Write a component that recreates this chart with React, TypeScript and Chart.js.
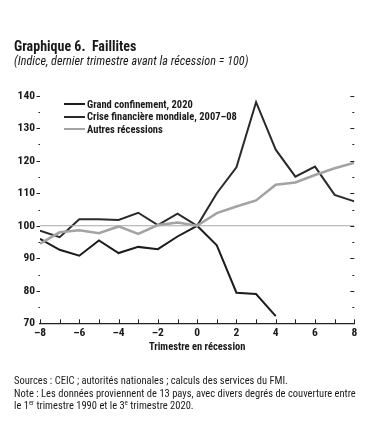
import React, { useEffect, useRef } from "react";
import { Chart, registerables } from "chart.js";

Chart.register(...registerables);

const quarters = [-8, -7, -6, -5, -4, -3, -2, -1, 0, 1, 2, 3, 4, 5, 6, 7, 8];
const grandConfinement = [96, 92.6, 90.8, 95.5, 91.6, 93.5, 92.8, 96.7, 100, 94, 79.4, 79, 72.2];
const criseFinanciere = [98.5, 96.5, 102, 102, 101.8, 104, 100.2, 103.7, 100, 110, 118, 138, 123.4, 115.1, 118.2, 109.5, 107.5];
const autresRecessions = [94.5, 98, 98.6, 97.7, 99.8, 97.5, 100.2, 101, 100, 103.9, 105.9, 107.8, 112.6, 113.3, 115.6, 117.7, 119.4];
const referenceLevel = [100, 100];
const seriesLabels = ["Grand confinement, 2020", "Crise financière mondiale, 2007–08", "Autres récessions"];
const seriesColors = ["#1c1c1c", "#2a2a2a", "#a3a3a3"];
const xTickValues = [-8, -6, -4, -2, 0, 2, 4, 6, 8];
const yTickValues = [70, 80, 90, 100, 110, 120, 130, 140];
const yMinorValues = [75, 85, 95, 105, 115, 125, 135];

const FONT = '"Roboto Condensed", "Liberation Sans", sans-serif';

const toPoints = (vals: number[]) => vals.map((v, i) => ({ x: quarters[i], y: v }));

const tickPlugin = {
  id: "axisTickMarks",
  afterDatasetsDraw(chart: any) {
    const { ctx, chartArea: a, scales } = chart;
    const x = scales.x;
    const y = scales.y;
    ctx.save();
    ctx.strokeStyle = "#222";
    ctx.lineWidth = 1;
    ctx.beginPath();
    for (const q of quarters) {
      const px = Math.round(x.getPixelForValue(q)) + 0.5;
      ctx.moveTo(px, a.bottom);
      ctx.lineTo(px, a.bottom - 4);
    }
    for (const v of yTickValues) {
      if (v === 70) continue;
      const py = Math.round(y.getPixelForValue(v)) + 0.5;
      ctx.moveTo(a.left - 3.5, py);
      ctx.lineTo(a.left, py);
      ctx.moveTo(a.right - 4, py);
      ctx.lineTo(a.right, py);
    }
    for (const v of yMinorValues) {
      const py = Math.round(y.getPixelForValue(v)) + 0.5;
      ctx.moveTo(a.left - 1.5, py);
      ctx.lineTo(a.left, py);
      ctx.moveTo(a.right - 2, py);
      ctx.lineTo(a.right, py);
    }
    ctx.stroke();
    ctx.restore();
  },
};

export default function App() {
  const canvasRef = useRef<HTMLCanvasElement | null>(null);

  useEffect(() => {
    const canvas = canvasRef.current;
    if (!canvas) return;
    const chart = new Chart(canvas, {
      type: "line",
      data: {
        datasets: [
          {
            label: "ref",
            data: [
              { x: quarters[0], y: referenceLevel[0] },
              { x: quarters[quarters.length - 1], y: referenceLevel[1] },
            ],
            borderColor: "#a8a8a8",
            borderWidth: 1.2,
            pointRadius: 0,
          },
          {
            label: seriesLabels[2],
            data: toPoints(autresRecessions),
            borderColor: seriesColors[2],
            borderWidth: 2.6,
            pointRadius: 0,
          },
          {
            label: seriesLabels[1],
            data: toPoints(criseFinanciere),
            borderColor: seriesColors[1],
            borderWidth: 2,
            pointRadius: 0,
          },
          {
            label: seriesLabels[0],
            data: toPoints(grandConfinement),
            borderColor: seriesColors[0],
            borderWidth: 2,
            pointRadius: 0,
          },
        ],
      },
      options: {
        responsive: false,
        animation: false,
        layout: { padding: { top: 95.7, right: 21.7, left: 0, bottom: 80.7 } },
        plugins: { legend: { display: false }, tooltip: { enabled: false } },
        scales: {
          x: {
            type: "linear",
            min: -8,
            max: 8,
            afterBuildTicks: (s: any) => {
              s.ticks = xTickValues.map((v) => ({ value: v }));
            },
            afterFit: (s: any) => {
              s.height = 30;
            },
            grid: { display: false, drawTicks: false, tickLength: 0 },
            border: { display: true, color: "#222", width: 1.2 },
            ticks: {
              padding: 3,
              color: "#1a1a1a",
              font: { family: FONT, size: 11.5, weight: "bold" },
              callback: (v: any) => String(v).replace("-", "–"),
            },
            title: {
              display: true,
              text: "Trimestre en récession",
              color: "#1a1a1a",
              padding: 0,
              font: { family: FONT, size: 10.5, weight: "bold" },
            },
          },
          y: {
            min: 70,
            max: 140,
            afterBuildTicks: (s: any) => {
              s.ticks = yTickValues.map((v) => ({ value: v }));
            },
            afterFit: (s: any) => {
              s.width = 40;
            },
            grid: { display: false, drawTicks: false, tickLength: 0 },
            border: { display: false },
            ticks: {
              padding: 5,
              color: "#1a1a1a",
              font: { family: FONT, size: 11.5, weight: "bold" },
            },
          },
        },
      } as any,
      plugins: [tickPlugin],
    });
    return () => chart.destroy();
  }, []);

  const text: React.CSSProperties = { position: "absolute", fontFamily: FONT, color: "#1a1a1a", whiteSpace: "nowrap" };

  return (
    <div style={{ position: "fixed", left: 0, top: 0, width: 376, height: 434, background: "#fff", overflow: "hidden" }}>
      <canvas ref={canvasRef} width={376} height={434} style={{ position: "absolute", left: 0, top: 0, display: "block" }} />
      <div style={{ ...text, left: 14, top: 38, fontSize: 14, fontWeight: "bold", lineHeight: "16px" }}>
        Graphique 6.&nbsp; Faillites
      </div>
      <div style={{ ...text, left: 14, top: 54, fontSize: 12.2, fontStyle: "italic", lineHeight: "14px" }}>
        (Indice, dernier trimestre avant la récession = 100)
      </div>
      {seriesLabels.map((lab, i) => (
        <div key={lab} style={{ ...text, left: 64, top: 97.5 + i * 12.5, fontSize: 10.5, fontWeight: "bold", lineHeight: "13px", display: "flex", alignItems: "center" }}>
          <span style={{ display: "inline-block", width: 21, height: i === 2 ? 2.6 : 2, background: seriesColors[i], marginRight: 2 }} />
          {lab}
        </div>
      ))}
      <div style={{ ...text, left: 14, top: 375, fontSize: 10.5, lineHeight: "12.5px" }}>
        <div>Sources : CEIC ; autorités nationales ; calculs des services du FMI.</div>
        <div>Note : Les données proviennent de 13 pays, avec divers degrés de couverture entre</div>
        <div>
          le 1<sup style={{ fontSize: 6.5, lineHeight: 0 }}>er</sup> trimestre 1990 et le 3<sup style={{ fontSize: 6.5, lineHeight: 0 }}>e</sup> trimestre 2020.
        </div>
      </div>
    </div>
  );
}
